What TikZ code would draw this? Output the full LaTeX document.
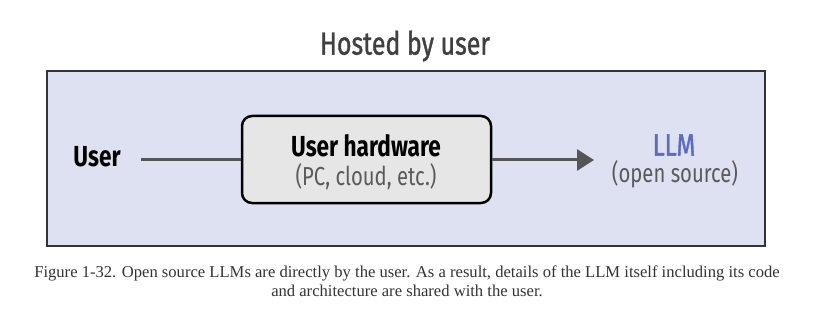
\documentclass[tikz,border=0pt]{standalone}
\usepackage{fontspec}
\setmainfont{Liberation Serif}
\newfontfamily\condfont[FakeStretch=0.78]{Fira Sans}
\newfontfamily\condmed[FakeStretch=0.78, FakeBold=1.2]{Fira Sans}
\usetikzlibrary{arrows.meta}

\definecolor{hostfill}{HTML}{DEE1F2}
\definecolor{hwfill}{HTML}{E6E6E6}
\definecolor{wire}{HTML}{555555}
\definecolor{llmblue}{HTML}{5A6BC8}
\definecolor{subgray}{HTML}{5A5A5A}
\definecolor{captext}{HTML}{333333}

\begin{document}
\begin{tikzpicture}[x = 1pt, y = -1pt, line width = 1pt,
                    label/.style = {font = \condfont\fontsize{29}{32}\selectfont\bfseries, inner sep = 0pt},
                    sub/.style = {font = \condfont\fontsize{26}{29}\selectfont, text = subgray, inner sep = 0pt},
                    hwbox/.style = {draw = black, line width = 2.5pt, fill = hwfill, rounded corners = 10pt,
                                    minimum width = 249pt, minimum height = 87pt},
                    wire/.style = {draw = wire, line width = 3pt}]
      \useasboundingbox (0, 0) rectangle (814, 310);

      % host frame
      \node [font = \condmed\fontsize{32}{36}\selectfont, text = black!75, inner sep = 0pt] (title) at (405, 46){Hosted by user};
      \node [draw = black!80, line width = 1.5pt, fill = hostfill, minimum width = 718pt, minimum height = 175pt,
             inner sep = 0pt] (host) at (406, 158.5){};

      \node [label] (user) at (97, 157){User};
      \node [hwbox] (hw) at (366.5, 159.5){};
      \node [label] (hwname) at (366, 146){User hardware};
      \node [sub] (hwkind) at (366, 177){(PC, cloud, etc.)};
      \node [text = llmblue, font = \condmed\fontsize{31}{34}\selectfont, inner sep = 0pt] (llm) at (674, 145){LLM};
      \node [sub] (llmkind) at (675, 174){(open source)};
      \coordinate (llmin) at (594, 160);

      \draw [wire] (user.east) ++(20, 3) -- (hw.west |- 0, 160);
      \draw [wire, -{Triangle[length = 17pt, width = 21pt]}] (hw.east |- 0, 160) -- (llmin);

      % caption
      \node [font = \fontsize{16.6}{19}\selectfont, text = captext, align = center] (caption) at (407, 281)
            {Figure 1-32. Open source LLMs are directly by the user. As a result, details of the LLM itself including its code\\
             and architecture are shared with the user.};
      \end{tikzpicture}
\end{document}
